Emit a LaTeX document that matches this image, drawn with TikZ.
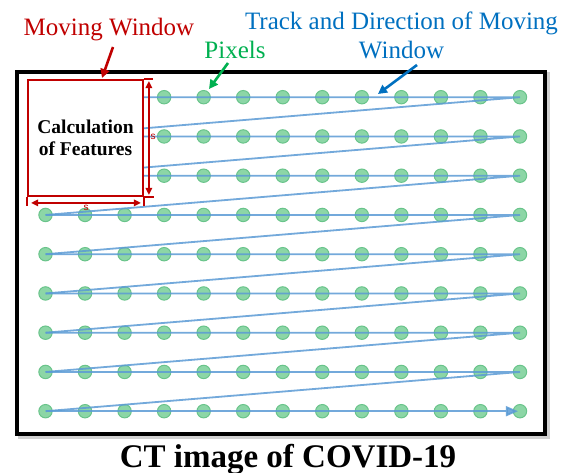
\documentclass[tikz,border=0pt]{standalone}
\usepackage{fontspec}
\setmainfont{Liberation Serif}
\setsansfont{Liberation Sans}
\usetikzlibrary{arrows.meta}
\definecolor{mwred}{RGB}{192,0,0}
\definecolor{pxgreen}{RGB}{0,176,80}
\definecolor{trblue}{RGB}{0,112,192}
\definecolor{lineblue}{RGB}{91,155,213}
\definecolor{dotfill}{RGB}{140,214,166}
\definecolor{dotline}{RGB}{105,196,138}
\begin{document}
\begin{tikzpicture}[x=1pt,y=-1pt,
  pix/.style={circle,fill=dotfill,draw=dotline,line width=1pt,minimum size=13.4pt,inner sep=0pt},
  track/.style={draw=lineblue,line width=1.8pt,opacity=0.85},
  winbox/.style={draw=mwred,line width=1.8pt,fill=white,minimum width=115pt,minimum height=116pt,inner sep=0pt,align=center,font=\fontsize{19.5}{22}\selectfont\bfseries},
  winline/.style={draw=mwred,line width=1.8pt},
  dimarrow/.style={draw=mwred,line width=1.5pt,{Triangle[length=7pt,width=6.5pt]}-{Triangle[length=7pt,width=6.5pt]}},
  dimlab/.style={text=mwred,font=\sffamily\fontsize{10}{11}\selectfont,inner sep=0pt},
  lab/.style={font=\fontsize{25}{29}\selectfont,inner sep=0pt,align=center},
  callout/.style={line width=2.6pt,-{Triangle[length=9pt,width=9pt]}}
]
\useasboundingbox (0,0) rectangle (572,473);
% frame with shadow
\draw[black!18,line width=4pt] (19.5,74.5) rectangle (547.5,436.5);
\draw[line width=4pt,fill=white] (17,72) rectangle (545,434);
% pixel grid
\foreach \r in {1,...,9}{
  \foreach \c in {1,...,13}{
    \coordinate (c-\r-\c) at ({45.5+39.54*(\c-1)},{97.2+39.25*(\r-1)});
    \node[pix] (p-\r-\c) at (c-\r-\c) {};
  }
}
% track of the moving window
\foreach \r in {1,...,8}{
  \pgfmathtruncatemacro\n{\r+1}
  \draw[track] (p-\r-1.center) -- (p-\r-13.center) -- (p-\n-1.center);
}
\draw[track,-{Triangle[length=12pt,width=10pt]},shorten >=2pt] (p-9-1.center) -- (p-9-13.center);
% moving window
\node[winbox] (win) at (85.5,138) {Calculation\\of Features};
\draw[winline] (win.north east) -- ++(9,0);
\draw[winline] (win.south east) -- ++(10,0);
\draw[winline] (win.south west) -- ++(0,9);
\draw[winline] (win.south east) -- ++(0,9);
\coordinate (vd1) at ([shift={(5,2)}]win.north east);
\coordinate (vd2) at ([shift={(5,-2)}]win.south east);
\coordinate (hd1) at ([shift={(4,6)}]win.south west);
\coordinate (hd2) at ([shift={(-3,6)}]win.south east);
\draw[dimarrow] (vd1) -- (vd2);
\draw[dimarrow] (hd1) -- (hd2);
\node[dimlab] (sv) at (153,137) {s};
\node[dimlab] (sh) at (86,208) {s};
% labels
\node[lab,text=mwred,anchor=base] (mw) at (109,36) {Moving Window};
\node[lab,text=pxgreen,anchor=base] (px) at (235,59) {Pixels};
\node[lab,text=trblue,anchor=base] (tr) at (401.5,59) {Track and Direction of Moving\\Window};
\node[anchor=base,inner sep=0pt,font=\fontsize{33}{36}\selectfont\bfseries] (ct) at (288,467) {CT image of COVID-19};
% callout arrows
\coordinate (mwtail) at (113,47);
\coordinate (mwtip) at (102,78);
\coordinate (pxtail) at (228,63);
\coordinate (pxtip) at (209,89);
\coordinate (trtail) at (417,65);
\coordinate (trtip) at (378,94);
\draw[callout,mwred] (mwtail) -- (mwtip);
\draw[callout,pxgreen] (pxtail) -- (pxtip);
\draw[callout,trblue] (trtail) -- (trtip);
\end{tikzpicture}
\end{document}
